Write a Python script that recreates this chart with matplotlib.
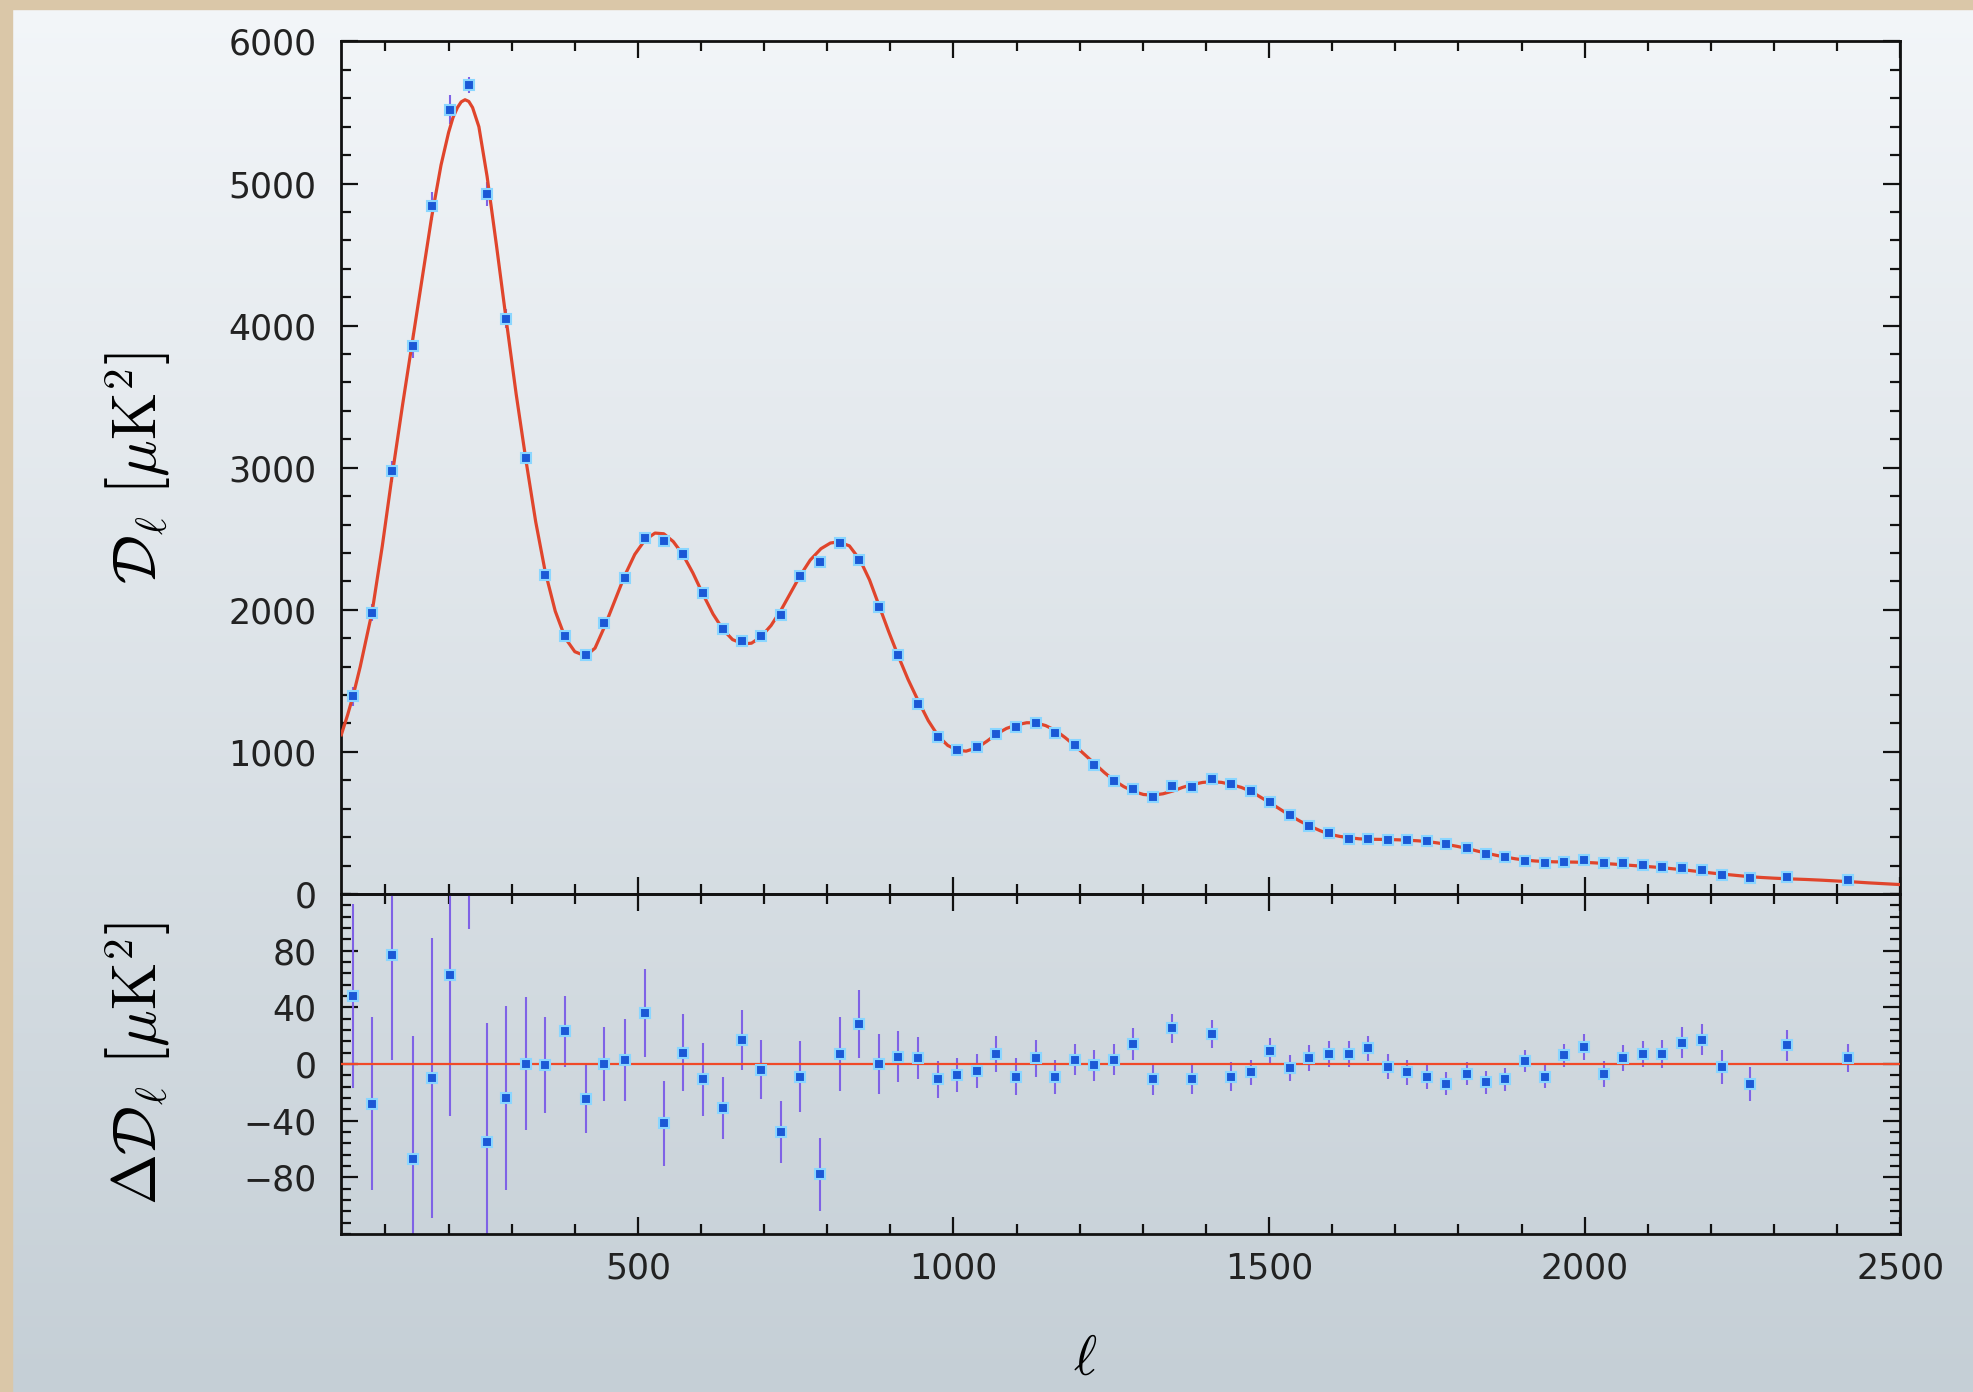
import numpy as np
import matplotlib
matplotlib.use("Agg")
import matplotlib.pyplot as plt
from matplotlib.ticker import MultipleLocator
from matplotlib.patches import Rectangle
from matplotlib.colors import LinearSegmentedColormap

# binned multipoles
ell = [49, 79, 111, 143, 173, 203, 233, 261, 291, 323,
       353, 385, 417, 447, 479, 511, 541, 571, 603, 634,
       665, 695, 727, 757, 789, 820, 851, 882, 912, 944,
       975, 1006, 1037, 1068, 1099, 1130, 1161, 1192, 1223, 1254,
       1285, 1316, 1347, 1378, 1409, 1440, 1471, 1502, 1533, 1564,
       1595, 1626, 1657, 1688, 1719, 1750, 1781, 1813, 1843, 1874,
       1905, 1937, 1968, 1999, 2030, 2061, 2092, 2123, 2154, 2186,
       2218, 2262, 2321, 2418]

# band powers D_l [muK^2]
dl = [1390, 1980, 2975, 3860, 4840, 5520, 5695, 4925, 4050, 3065,
      2248, 1818, 1682, 1905, 2222, 2502, 2482, 2396, 2118, 1862,
      1782, 1812, 1962, 2238, 2338, 2470, 2350, 2022, 1680, 1340,
      1108, 1014, 1032, 1127, 1177, 1206, 1136, 1049, 910, 798,
      737, 680, 758, 756, 812, 773, 725, 650, 556, 479,
      432, 390, 388, 382, 380, 375, 352, 322, 282, 258,
      235, 218, 228, 236, 220, 218, 206, 192, 181, 166,
      130, 112, 120, 95]

# 1-sigma errors
dl_err = [65, 61, 74, 87, 99, 100, 55, 84, 65, 47,
          34, 25, 24, 26, 29, 31, 30, 27, 26, 22,
          21, 21, 22, 25, 26, 26, 24, 21, 18, 15,
          13, 12, 12, 13, 13, 13, 12, 11, 11, 11,
          11, 11, 10, 10, 10, 10, 9, 9, 9, 9,
          9, 9, 9, 9, 9, 9, 8, 8, 8, 8,
          8, 8, 8, 9, 9, 9, 9, 10, 11, 11,
          12, 12, 11, 10]

# residuals with respect to the best-fit model
resid = [48, -28, 77, -67, -10, 63, 150, -55, -24, 0,
         -1, 23, -25, 0, 3, 36, -42, 8, -11, -31,
         17, -4, -48, -9, -78, 7, 28, 0, 5, 4,
         -11, -8, -5, 7, -9, 4, -9, 3, -1, 3,
         14, -11, 25, -11, 21, -9, -6, 9, -3, 4,
         7, 7, 11, -2, -6, -9, -14, -7, -13, -11,
         2, -9, 6, 12, -7, 4, 7, 7, 15, 17,
         -2, -14, 13, 4]

# best-fit LCDM spectrum
model_ell = [30, 40, 49, 60, 79, 95, 111, 127, 143, 158,
             173, 188, 200, 207, 214, 220, 226, 232, 238, 248,
             261, 276, 291, 307, 323, 338, 353, 369, 385, 400,
             417, 432, 447, 463, 479, 495, 511, 527, 541, 556,
             571, 587, 603, 619, 635, 650, 667, 680, 695, 711,
             727, 742, 757, 773, 790, 805, 818, 835, 852, 867,
             882, 897, 912, 928, 944, 960, 976, 991, 1006, 1020,
             1038, 1053, 1068, 1084, 1100, 1116, 1130, 1146, 1162, 1177,
             1192, 1208, 1224, 1239, 1254, 1270, 1286, 1301, 1316, 1332,
             1348, 1363, 1378, 1395, 1410, 1425, 1440, 1456, 1472, 1487,
             1502, 1518, 1534, 1550, 1566, 1581, 1596, 1612, 1628, 1643,
             1658, 1674, 1690, 1705, 1720, 1736, 1752, 1767, 1782, 1798,
             1814, 1829, 1844, 1860, 1876, 1891, 1906, 1922, 1938, 1953,
             1968, 1984, 2000, 2015, 2030, 2046, 2062, 2077, 2092, 2108,
             2124, 2140, 2156, 2172, 2188, 2204, 2220, 2240, 2260, 2280,
             2300, 2325, 2350, 2375, 2400, 2425, 2450, 2475, 2500]
model_dl = [1120, 1260, 1400, 1600, 1990, 2450, 2960, 3440, 3900, 4330,
            4760, 5130, 5360, 5465, 5535, 5575, 5590, 5578, 5535, 5400,
            5050, 4560, 4050, 3520, 3040, 2620, 2270, 1990, 1800, 1705,
            1675, 1730, 1880, 2060, 2240, 2390, 2490, 2540, 2535, 2480,
            2390, 2260, 2110, 1970, 1860, 1790, 1760, 1765, 1810, 1890,
            2000, 2120, 2240, 2350, 2430, 2470, 2478, 2450, 2350, 2210,
            2030, 1850, 1680, 1510, 1360, 1220, 1110, 1045, 1012, 1005,
            1030, 1075, 1125, 1165, 1190, 1205, 1205, 1185, 1150, 1100,
            1045, 980, 915, 855, 800, 755, 720, 700, 695, 705,
            725, 750, 770, 785, 790, 785, 770, 750, 720, 680,
            640, 595, 550, 510, 475, 445, 420, 405, 395, 388,
            385, 384, 383, 381, 378, 374, 368, 359, 348, 335,
            320, 303, 287, 272, 258, 247, 238, 232, 228, 226,
            225, 224, 222, 219, 215, 210, 205, 200, 195, 190,
            184, 177, 170, 162, 154, 146, 139, 130, 122, 116,
            111, 106, 102, 97, 91, 85, 78, 72, 66]

plt.rcParams['font.family'] = 'DejaVu Sans'
plt.rcParams['mathtext.fontset'] = 'cm'

fig = plt.figure(figsize=(19.74, 13.92), dpi=100)

# soft vertical background gradient
bg = fig.add_axes([0, 0, 1, 1], zorder=-10)
grad = np.linspace(0, 1, 256).reshape(-1, 1)
bg_cmap = LinearSegmentedColormap.from_list('bg', ['#f3f6f9', '#c5cfd6'])
bg.imshow(grad, aspect='auto', cmap=bg_cmap, extent=[0, 1, 0, 1], origin='upper')
bg.axis('off')

# tan frame along the left and top edges
fig.patches.append(Rectangle((0, 0), 12 / 1974, 1, transform=fig.transFigure,
                             color='#dac7a8', zorder=-5))
fig.patches.append(Rectangle((0, 1 - 9 / 1392), 1, 9 / 1392, transform=fig.transFigure,
                             color='#dac7a8', zorder=-5))

ax1 = fig.add_axes([0.1729, 0.3578, 0.7897, 0.6124])
ax2 = fig.add_axes([0.1729, 0.1136, 0.7897, 0.2442], sharex=ax1)

err_col = '#7f62e6'
pt_face = '#1a58d6'
pt_edge = '#8ad6ff'
line_col = '#e0452c'

ax1.errorbar(ell, dl, yerr=dl_err, fmt='none', ecolor=err_col, elinewidth=1.5, zorder=2)
ax1.plot(model_ell, model_dl, color=line_col, lw=2.3, zorder=3)
ax1.plot(ell, dl, 's', ms=7.5, mfc=pt_face, mec=pt_edge, mew=1.5, zorder=4)

ax2.axhline(0, color='#f04a28', lw=1.6, zorder=3)
ax2.errorbar(ell, resid, yerr=dl_err, fmt='none', ecolor=err_col, elinewidth=1.5, zorder=2)
ax2.plot(ell, resid, 's', ms=7.5, mfc=pt_face, mec=pt_edge, mew=1.5, zorder=4)

ax1.set_xlim(30, 2500)
ax1.set_ylim(0, 6000)
ax2.set_ylim(-120, 120)

ax1.yaxis.set_major_locator(MultipleLocator(1000))
ax1.yaxis.set_minor_locator(MultipleLocator(200))
ax2.yaxis.set_minor_locator(MultipleLocator(8))
ax2.set_yticks([-80, -40, 0, 40, 80])
ax2.xaxis.set_major_locator(MultipleLocator(500))
ax2.xaxis.set_minor_locator(MultipleLocator(100))

for ax in (ax1, ax2):
    ax.set_facecolor('none')
    for sp in ax.spines.values():
        sp.set_linewidth(2.0)
        sp.set_color('#111111')
    ax.tick_params(which='both', direction='in', top=True, right=True,
                   color='#111111', width=1.6)
    ax.tick_params(which='major', length=12)
    ax.tick_params(which='minor', length=7)
    ax.tick_params(axis='y', labelsize=25, pad=18, labelcolor='#222222')
    ax.tick_params(axis='x', labelsize=25, pad=13, labelcolor='#222222')

ax1.tick_params(axis='x', labelbottom=False)

ax1.set_ylabel(r'$\mathcal{D}_\ell\ \left[\mu\mathrm{K}^2\right]$', fontsize=44)
ax2.set_ylabel(r'$\Delta\mathcal{D}_\ell\ \left[\mu\mathrm{K}^2\right]$', fontsize=44)
ax1.yaxis.set_label_coords(-0.108, 0.5)
ax2.yaxis.set_label_coords(-0.108, 0.5)
ax2.set_xlabel(r'$\ell$', fontsize=40)
ax2.xaxis.set_label_coords(0.477, -0.29)

fig.savefig('out.png', dpi=100)
